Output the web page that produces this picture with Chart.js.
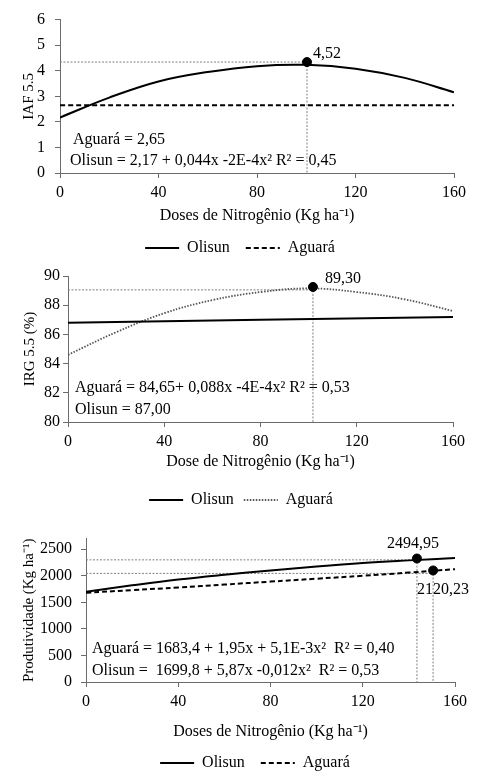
<!DOCTYPE html>
<html>
<head>
<meta charset="utf-8">
<script src="https://cdn.jsdelivr.net/npm/chart.js@4.4.1/dist/chart.umd.min.js"></script>
<style>
  html, body { margin: 0; padding: 0; background: #fff; overflow: hidden; }
  body { width: 481px; height: 782px; position: relative; }
  canvas { position: absolute; left: 0; }
</style>
</head>
<body>
<canvas id="iaf" width="481" height="266" style="top:0px"></canvas>
<canvas id="irg" width="481" height="258" style="top:260px"></canvas>
<canvas id="prod" width="481" height="261" style="top:520px"></canvas>
<script>
// doses of nitrogen (x axis)
const doses = [0, 20, 40, 60, 80, 100, 120, 140, 160];
const doseEnds = [0, 160];
const xTicks = [0, 40, 80, 120, 160];

// IAF 5.5
const iafTicks = [0, 1, 2, 3, 4, 5, 6];
const iafOlisun = [2.17, 2.95, 3.58, 3.95, 4.18, 4.23, 4.08, 3.72, 3.16];
const iafAguara = [2.65, 2.65];
const iafPeak = [100.3, 4.34];
const iafPeakLabel = '4,52';

// IRG 5.5 (%)
const irgTicks = [80, 82, 84, 86, 88, 90];
const irgOlisun = [86.8, 87.2];
const irgAguara = [84.6, 86.15, 87.45, 88.35, 88.9, 89.15, 88.9, 88.4, 87.6];
const irgPeak = [101.8, 89.25];
const irgGuideY = 89.05;
const irgPeakLabel = '89,30';

// Produtividade (Kg ha-1)
const prodTicks = [0, 500, 1000, 1500, 2000, 2500];
const prodOlisun = [1700, 1820, 1930, 2020, 2100, 2175, 2240, 2290, 2335];
const prodAguara = [1680, 1730, 1780, 1835, 1890, 1945, 2000, 2060, 2125];
const prodPeakX = [143.5, 150.5];
const prodPeakY = [2325, 2100];
const prodGuideY = [2300, 2045];
const prodPeakLabels = ['2494,95', '2120,23'];

const serif = '"Liberation Serif", "Times New Roman", serif';
Chart.defaults.font.family = serif;
Chart.defaults.font.size = 16;
Chart.defaults.color = '#000';

const axisColor = '#6b6b6b';
const guideColor = '#808080';

const pts = (xs, ys) => xs.map((x, i) => ({ x, y: ys[i] }));

// text written on the plot: equations and peak values
const notesPlugin = {
  id: 'notes',
  afterDatasetsDraw(chart, args, opts) {
    const { ctx, chartArea, scales } = chart;
    ctx.save();
    ctx.fillStyle = '#000';
    ctx.font = '16px ' + serif;
    ctx.textBaseline = 'middle';
    ctx.textAlign = 'left';
    (opts.lines || []).forEach(l => {
      ctx.fillText(l.text, chartArea.left + l.dx, chartArea.bottom - l.dy);
    });
    (opts.marks || []).forEach(m => {
      ctx.fillText(m.text, scales.x.getPixelForValue(m.x) + m.dx, scales.y.getPixelForValue(m.y) + m.dy);
    });
    ctx.restore();
  }
};

// moves the legend sideways so it sits where the original one does
const legendShift = {
  id: 'legendShift',
  afterLayout(chart, args, opts) {
    const lg = chart.legend;
    if (lg && opts.dx) {
      lg.left += opts.dx;
      lg.right += opts.dx;
    }
  }
};

const dot = (xs, ys) => ({
  label: 'ponto', data: pts(xs, ys), showLine: false,
  pointRadius: 4.5, pointBackgroundColor: '#000', pointBorderColor: '#000'
});
const guide = (data) => ({
  label: 'guia', data, borderColor: guideColor, borderWidth: 1,
  borderDash: [2, 1.5], pointRadius: 0, tension: 0
});
const curve = (label, data, dash, width, color) => ({
  label, data, borderColor: color || '#000', backgroundColor: color || '#000',
  borderWidth: width || 2, borderDash: dash || [], pointRadius: 0, tension: 0.4
});

const legendItems = chart =>
  Chart.defaults.plugins.legend.labels.generateLabels(chart).map(item => {
    const ds = chart.data.datasets[item.datasetIndex];
    item.lineDash = ds.borderDash;
    item.lineWidth = ds.borderWidth;
    item.strokeStyle = ds.borderColor;
    return item;
  });

const buildChart = (id, c) => {
  new Chart(document.getElementById(id), {
    type: 'line',
    data: { datasets: c.datasets },
    plugins: [notesPlugin, legendShift],
    options: {
      responsive: false,
      animation: false,
      layout: { padding: { left: c.padL, right: c.padR, top: c.padT, bottom: 0 } },
      scales: {
        x: {
          type: 'linear', min: 0, max: 160,
          afterBuildTicks: s => { s.ticks = xTicks.map(v => ({ value: v })); },
          ticks: { padding: 5, maxRotation: 0, autoSkip: false, callback: v => String(v) },
          grid: { display: true, drawOnChartArea: false, drawTicks: true, tickLength: 5, color: axisColor },
          border: { display: true, color: axisColor },
          title: { display: true, text: c.xTitle, padding: { top: 0, bottom: c.xTitlePad } },
          afterFit: s => { s.height = c.xh; }
        },
        y: {
          type: 'linear', min: c.yMin, max: c.yMax,
          afterBuildTicks: s => { s.ticks = c.yTicks.map(v => ({ value: v })); },
          ticks: { padding: c.yPad, autoSkip: false, callback: v => String(v) },
          grid: { display: true, drawOnChartArea: false, drawTicks: true, tickLength: 5, color: axisColor },
          border: { display: true, color: axisColor },
          title: { display: true, text: c.yTitle, font: { size: 15 }, padding: { top: 0, bottom: 0 } },
          afterFit: s => { s.width = c.yw; }
        }
      },
      plugins: {
        legend: {
          position: 'bottom',
          labels: {
            usePointStyle: true, pointStyle: 'line', pointStyleWidth: 34,
            padding: c.legendPad, color: '#000',
            generateLabels: legendItems,
            filter: item => item.text === 'Olisun' || item.text === 'Aguará'
          }
        },
        legendShift: { dx: c.legendDx },
        tooltip: { enabled: false },
        notes: { lines: c.lines, marks: c.marks }
      }
    }
  });
};

buildChart('iaf', {
  padL: 20, padR: 27, padT: 17, yw: 40, xh: 51, xTitlePad: -1.6,
  legendPad: 16, legendDx: 3, yPad: 10,
  yMin: 0, yMax: 6, yTicks: iafTicks,
  yTitle: 'IAF 5.5', xTitle: 'Doses de Nitrogênio (Kg ha⁻¹)',
  datasets: [
    dot([iafPeak[0]], [iafPeak[1]]),
    curve('Olisun', pts(doses, iafOlisun)),
    curve('Aguará', pts(doseEnds, iafAguara), [5, 3]),
    guide(pts([0, iafPeak[0]], [iafPeak[1], iafPeak[1]])),
    guide(pts([iafPeak[0], iafPeak[0]], [iafPeak[1], 0]))
  ],
  lines: [
    { text: 'Aguará = 2,65', dx: 13, dy: 33 },
    { text: 'Olisun = 2,17 + 0,044x -2E-4x² R² = 0,45', dx: 10, dy: 12 }
  ],
  marks: [{ text: iafPeakLabel, x: iafPeak[0], y: iafPeak[1], dx: 6, dy: -8 }]
});

buildChart('irg', {
  padL: 21, padR: 28, padT: 16, yw: 47, xh: 60, xTitlePad: 10.4,
  legendPad: 10, legendDx: 4, yPad: 3,
  yMin: 80, yMax: 90, yTicks: irgTicks,
  yTitle: 'IRG 5.5 (%)', xTitle: 'Dose de Nitrogênio (Kg ha⁻¹)',
  datasets: [
    dot([irgPeak[0]], [irgPeak[1]]),
    curve('Olisun', pts(doseEnds, irgOlisun)),
    curve('Aguará', pts(doses, irgAguara), [1.5, 1.5], 1.8, '#555'),
    guide(pts([0, irgPeak[0]], [irgGuideY, irgGuideY])),
    guide(pts([irgPeak[0], irgPeak[0]], [irgPeak[1], 80]))
  ],
  lines: [
    { text: 'Aguará = 84,65+ 0,088x -4E-4x² R² = 0,53', dx: 7, dy: 34 },
    { text: 'Olisun = 87,00', dx: 7, dy: 12 }
  ],
  marks: [{ text: irgPeakLabel, x: irgPeak[0], y: irgPeak[1], dx: 12, dy: -8 }]
});

buildChart('prod', {
  padL: 20, padR: 26, padT: 17, yw: 66, xh: 57, xTitlePad: -2.6,
  legendPad: 16, legendDx: 17.5, yPad: 9,
  yMin: 0, yMax: 2700, yTicks: prodTicks,
  yTitle: 'Produtividade (Kg ha⁻¹)', xTitle: 'Doses de Nitrogênio (Kg ha⁻¹)',
  datasets: [
    dot(prodPeakX, prodPeakY),
    curve('Olisun', pts(doses, prodOlisun)),
    curve('Aguará', pts(doses, prodAguara), [5, 3]),
    guide(pts([0, prodPeakX[0]], [prodGuideY[0], prodGuideY[0]])),
    guide(pts([0, prodPeakX[1]], [prodGuideY[1], prodGuideY[1]])),
    guide(pts([prodPeakX[0], prodPeakX[0]], [prodPeakY[0], 0])),
    guide(pts([prodPeakX[1], prodPeakX[1]], [prodPeakY[1], 0]))
  ],
  lines: [
    { text: 'Aguará = 1683,4 + 1,95x + 5,1E-3x²  R² = 0,40', dx: 6, dy: 33 },
    { text: 'Olisun =  1699,8 + 5,87x -0,012x²  R² = 0,53', dx: 6, dy: 11 }
  ],
  marks: [
    { text: prodPeakLabels[0], x: prodPeakX[0], y: prodPeakY[0], dx: -30, dy: -15 },
    { text: prodPeakLabels[1], x: prodPeakX[1], y: prodPeakY[1], dx: -16, dy: 19 }
  ]
});
</script>
</body>
</html>
